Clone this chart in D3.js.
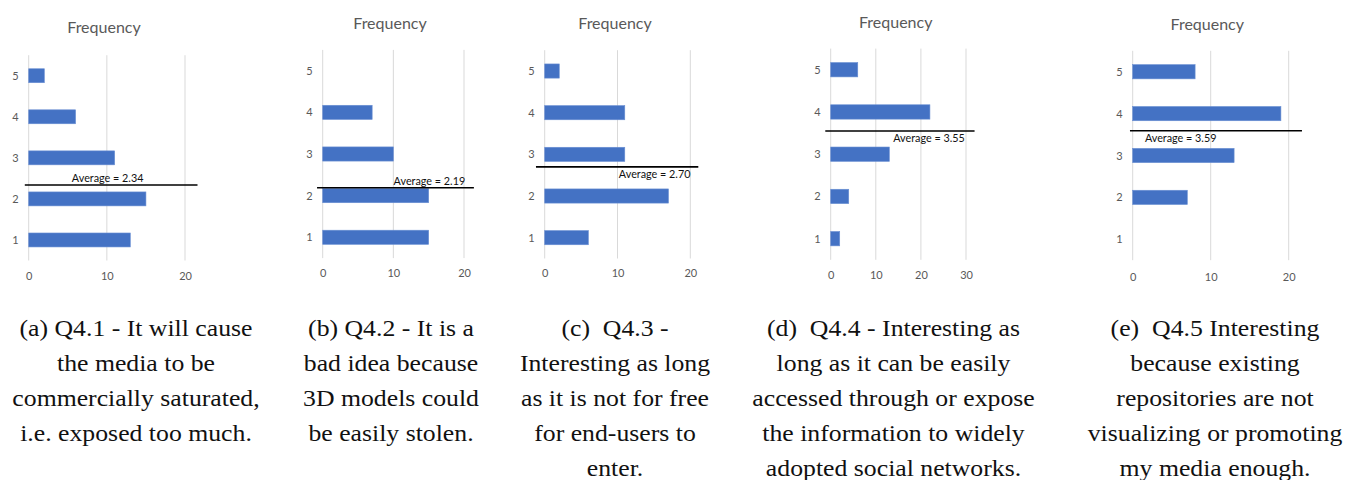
<!DOCTYPE html>
<html><head><meta charset="utf-8">
<script src="https://cdn.jsdelivr.net/npm/d3@7"></script>
<style>body{margin:0;background:#fff}</style>
</head><body><svg id="c" width="1357" height="480"></svg>
<script>
// ---- data ----
const categories = [1, 2, 3, 4, 5];
const freqA = [13, 15, 11, 6, 2];
const freqB = [15, 15, 10, 7, 0];
const freqC = [6, 17, 11, 11, 2];
const freqD = [2, 4, 13, 22, 6];
const freqE = [0, 7, 13, 19, 8];
const averages = [2.34, 2.19, 2.70, 3.55, 3.59];
const xTicks = [[0, 10, 20], [0, 10, 20], [0, 10, 20], [0, 10, 20, 30], [0, 10, 20]];
const chartTitle = "Frequency";
const captions = [
  ["(a) Q4.1 - It will cause", "the media to be", "commercially saturated,", "i.e. exposed too much."],
  ["(b) Q4.2 - It is a", "bad idea because", "3D models could", "be easily stolen."],
  ["(c)  Q4.3 -", "Interesting as long", "as it is not for free", "for end-users to", "enter."],
  ["(d)  Q4.4 - Interesting as", "long as it can be easily", "accessed through or expose", "the information to widely", "adopted social networks."],
  ["(e)  Q4.5 Interesting", "because existing", "repositories are not", "visualizing or promoting", "my media enough."]
];
const series = [freqA, freqB, freqC, freqD, freqE];

// ---- layout (positions only) ----
const layout = [
  {xr: [28.7, 185], yr: [260.5, 55.2], titleX: 104, titleY: 33, tickY: 280, capX: 136, avgLabelAt: 10.1, avgSide: "above", lineExt: [-0.5, 21.6]},
  {xr: [322.7, 464], yr: [258.1, 49.9], titleX: 390, titleY: 29, tickY: 277, capX: 391, avgLabelAt: 15.1, avgSide: "above", lineExt: [-0.8, 21.4]},
  {xr: [544.7, 690.3], yr: [258.5, 50.2], titleX: 615, titleY: 29, tickY: 277, capX: 615, avgLabelAt: 15.1, avgSide: "below", lineExt: [-1.2, 21.1]},
  {xr: [830.7, 966], yr: [259.8, 48.6], titleX: 895.7, titleY: 27.5, tickY: 279, capX: 893.5, avgLabelAt: 21.8, avgSide: "below", lineExt: [-1.2, 31.9]},
  {xr: [1132.7, 1288.7], yr: [260.2, 50.8], titleX: 1207.3, titleY: 29.5, tickY: 280.5, capX: 1215, avgLabelAt: 6.15, avgSide: "below", lineExt: [-0.35, 21.7]}
];

const svg = d3.select("#c");
const sans = "Lato, 'Open Sans', sans-serif";
const grey = "#595959";

series.forEach((vals, i) => {
  const L = layout[i];
  const ticks = xTicks[i];
  const x = d3.scaleLinear().domain([0, d3.max(ticks)]).range(L.xr);
  const y = d3.scaleLinear().domain([0.5, 5.5]).range(L.yr);
  const band = Math.abs(y(1) - y(2));
  const g = svg.append("g");

  // gridlines
  g.selectAll("line.grid").data(ticks).join("line")
    .attr("x1", d => x(d)).attr("x2", d => x(d))
    .attr("y1", L.yr[1]).attr("y2", L.yr[0])
    .attr("stroke", "#d9d9d9").attr("stroke-width", 1);

  // bars
  const bh = band * 0.34;
  g.selectAll("rect").data(categories.map((c, k) => ({c, v: vals[k]})).filter(d => d.v > 0)).join("rect")
    .attr("x", x(0)).attr("y", d => y(d.c) - bh / 2)
    .attr("width", d => x(d.v) - x(0)).attr("height", bh)
    .attr("fill", "#4472C4").attr("stroke", "#6a8fd3").attr("stroke-width", 0.6);

  // y axis labels
  const yAxis = d3.axisLeft(y).tickValues(categories).tickSize(0).tickPadding(10).tickFormat(d3.format("d"));
  const ya = g.append("g").attr("transform", `translate(${x(0)},0)`).call(yAxis);
  ya.select(".domain").remove();
  ya.selectAll("text").attr("font-family", sans).attr("font-size", 11).attr("fill", grey);

  // x axis labels
  const xAxis = d3.axisBottom(x).tickValues(ticks).tickSize(0).tickPadding(0).tickFormat(d3.format("d"));
  const xa = g.append("g").attr("transform", `translate(0,${L.tickY - 8})`).call(xAxis);
  xa.select(".domain").remove();
  xa.selectAll("text").attr("font-family", sans).attr("font-size", 11).attr("fill", grey).attr("dy", 0).attr("y", 8);

  // title
  g.append("text").attr("x", L.titleX).attr("y", L.titleY).attr("text-anchor", "middle")
    .attr("font-family", sans).attr("font-size", 16).attr("fill", grey).text(chartTitle);

  // average line
  const ay = y(averages[i]);
  g.append("line").attr("x1", x(L.lineExt[0])).attr("x2", x(L.lineExt[1]))
    .attr("y1", ay).attr("y2", ay).attr("stroke", "#000").attr("stroke-width", 1.6);
  g.append("text").attr("x", x(L.avgLabelAt))
    .attr("y", L.avgSide === "above" ? ay - 3 : ay + 11.5)
    .attr("text-anchor", "middle").attr("font-family", sans).attr("font-size", 10.8).attr("fill", "#111")
    .text("Average = " + averages[i].toFixed(2));

  // caption
  captions[i].forEach((line, k) => {
    g.append("text")
      .attr("transform", `translate(${L.capX},${336 + k * 35}) scale(1.12,1)`)
      .attr("text-anchor", "middle").attr("font-family", "'Liberation Serif', serif")
      .attr("font-size", 23).attr("fill", "#111").attr("xml:space", "preserve").text(line);
  });
});
</script>
</body></html>
